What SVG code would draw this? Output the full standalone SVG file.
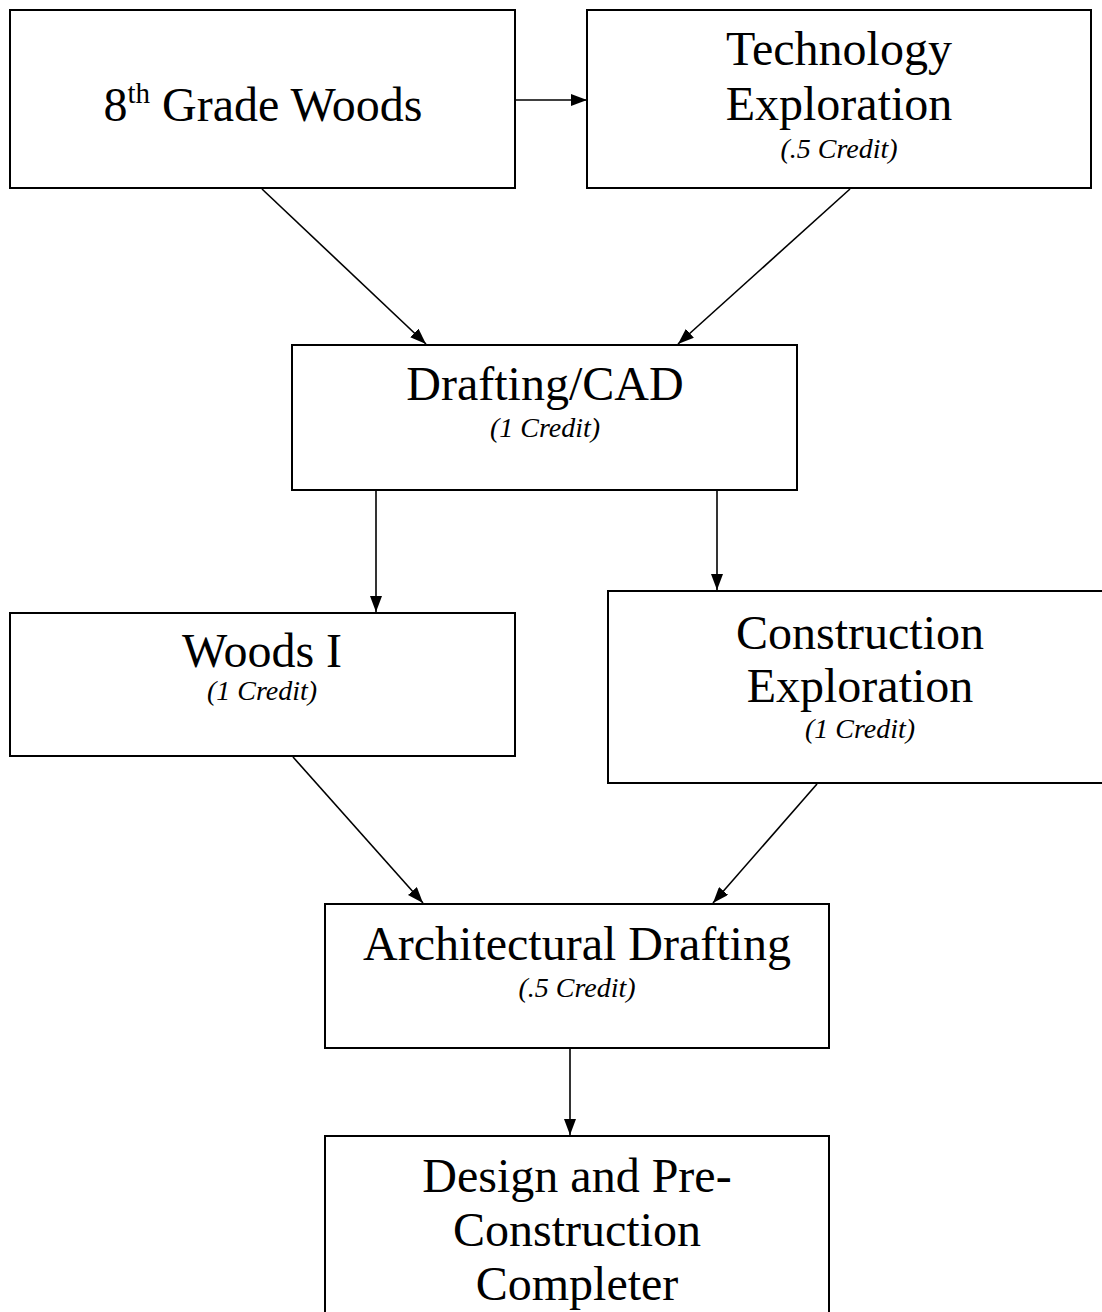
<svg xmlns="http://www.w3.org/2000/svg" width="1102" height="1312" viewBox="0 0 1102 1312">
<style>
.box{fill:#fff;stroke:#000;stroke-width:2}
.t{font-family:"Liberation Serif","Times New Roman",serif;font-size:48px;fill:#000;text-anchor:middle}
.c{font-family:"Liberation Serif","Times New Roman",serif;font-size:28px;font-style:italic;fill:#000;text-anchor:middle}
.e{stroke:#000;stroke-width:1.6;fill:none;marker-end:url(#ah)}
</style>
<defs>
<marker id="ah" viewBox="0 0 16 12" markerWidth="16" markerHeight="12" refX="16" refY="6" orient="auto" markerUnits="userSpaceOnUse">
<path d="M0,0 L16,6 L0,12 z" fill="#000"/>
</marker>
</defs>
<rect width="1102" height="1312" fill="#fff"/>
<g id="connectors">
<line class="e" x1="515" y1="100" x2="587" y2="100"/>
<line class="e" x1="262" y1="189" x2="426" y2="344"/>
<line class="e" x1="850" y1="189" x2="678" y2="344"/>
<line class="e" x1="376" y1="490" x2="376" y2="612"/>
<line class="e" x1="717" y1="490" x2="717" y2="590"/>
<line class="e" x1="293" y1="757" x2="423" y2="903"/>
<line class="e" x1="817" y1="784" x2="713" y2="903"/>
<line class="e" x1="570" y1="1048" x2="570" y2="1135"/>
</g>
<g id="n-8th-grade-woods">
<rect class="box" x="10" y="10" width="505" height="178"/>
<text class="t" x="263" y="121">8<tspan font-size="29" dy="-18">th</tspan><tspan dy="18"> Grade Woods</tspan></text>
</g>
<g id="n-technology-exploration">
<rect class="box" x="587" y="10" width="504" height="178"/>
<text class="t" x="839" y="65">Technology</text>
<text class="t" x="839" y="120">Exploration</text>
<text class="c" x="839" y="158">(.5 Credit)</text>
</g>
<g id="n-drafting-cad">
<rect class="box" x="292" y="345" width="505" height="145"/>
<text class="t" x="545" y="400">Drafting/CAD</text>
<text class="c" x="545" y="437">(1 Credit)</text>
</g>
<g id="n-woods-i">
<rect class="box" x="10" y="613" width="505" height="143"/>
<text class="t" x="262" y="667">Woods I</text>
<text class="c" x="262" y="700">(1 Credit)</text>
</g>
<g id="n-construction-exploration">
<rect class="box" x="608" y="591" width="500" height="192"/>
<text class="t" x="860" y="649">Construction</text>
<text class="t" x="860" y="702">Exploration</text>
<text class="c" x="860" y="738">(1 Credit)</text>
</g>
<g id="n-architectural-drafting">
<rect class="box" x="325" y="904" width="504" height="144"/>
<text class="t" x="577" y="960">Architectural Drafting</text>
<text class="c" x="577" y="997">(.5 Credit)</text>
</g>
<g id="n-design-preconstruction">
<rect class="box" x="325" y="1136" width="504" height="200"/>
<text class="t" x="577" y="1192">Design and Pre-</text>
<text class="t" x="577" y="1246">Construction</text>
<text class="t" x="577" y="1300">Completer</text>
</g>
</svg>
